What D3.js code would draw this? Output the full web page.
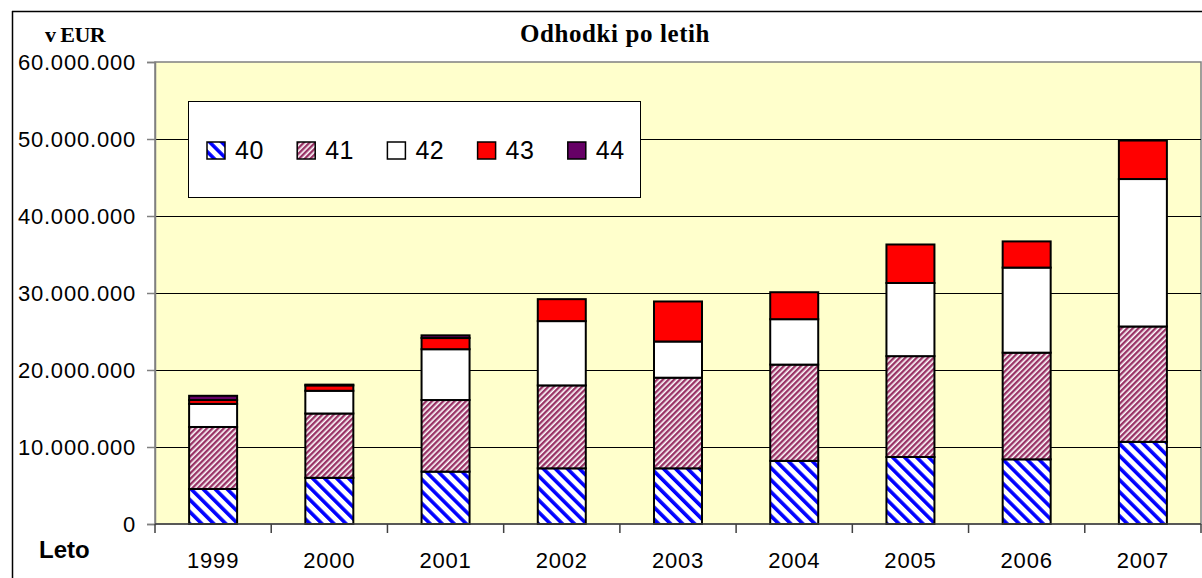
<!DOCTYPE html>
<html>
<head>
<meta charset="utf-8">
<script src="https://cdn.jsdelivr.net/npm/d3@7"></script>
<style>
  html, body { margin: 0; padding: 0; background: #fff; }
  svg { display: block; }
</style>
</head>
<body>
<svg id="chart" width="1202" height="578"></svg>
<script>
const years = ["1999","2000","2001","2002","2003","2004","2005","2006","2007"];
const seriesNames = ["40","41","42","43","44"];
const s40 = [4550000, 6000000, 6800000, 7230000, 7230000, 8200000, 8700000, 8400000, 10670000];
const s41 = [8050000, 8350000, 9300000, 10770000, 11770000, 12500000, 13100000, 13850000, 14980000];
const s42 = [3000000, 2950000, 6600000, 8350000, 4700000, 5900000, 9500000, 11050000, 19150000];
const s43 = [500000, 700000, 1450000, 2850000, 5200000, 3500000, 5000000, 3400000, 5000000];
const s44 = [550000, 100000, 350000, 0, 0, 0, 0, 0, 0];
const yTicks = [0, 10000000, 20000000, 30000000, 40000000, 50000000, 60000000];
const titleText = "Odhodki po letih";
const yUnit = "v EUR";
const xTitle = "Leto";

const svg = d3.select("#chart");
const plot = { left: 155, right: 1201, top: 62, bottom: 524 };

const rows = years.map((y, i) => ({ year: y, "40": s40[i], "41": s41[i], "42": s42[i], "43": s43[i], "44": s44[i] }));
const stack = d3.stack().keys(seriesNames)(rows);

const x = d3.scaleBand().domain(years).range([plot.left, plot.right]).paddingInner(0.587).paddingOuter(0.2935);
const y = d3.scaleLinear().domain([0, 60000000]).range([plot.bottom, plot.top]);

const loc = d3.formatLocale({ decimal: ",", thousands: ".", grouping: [3], currency: ["", " €"] });
const fmt = loc.format(",d");

// patterns
const defs = svg.append("defs");
const p40 = defs.append("pattern").attr("id", "p40").attr("patternUnits", "userSpaceOnUse")
  .attr("width", 8.5).attr("height", 8.5).attr("patternTransform", "rotate(-45)");
p40.append("rect").attr("width", 8.5).attr("height", 8.5).attr("fill", "#ffffff");
p40.append("rect").attr("width", 3.6).attr("height", 8.5).attr("fill", "#0000ff");
const p41 = defs.append("pattern").attr("id", "p41").attr("patternUnits", "userSpaceOnUse")
  .attr("width", 4).attr("height", 4).attr("patternTransform", "rotate(45)");
p41.append("rect").attr("width", 4).attr("height", 4).attr("fill", "#ffffff");
p41.append("rect").attr("width", 2.4).attr("height", 4).attr("fill", "#993366");

const fills = { "40": "url(#p40)", "41": "url(#p41)", "42": "#ffffff", "43": "#ff0000", "44": "#660066" };

// outer frame
svg.append("line").attr("x1", 12).attr("x2", 1202).attr("y1", 11.5).attr("y2", 11.5).attr("stroke", "#000").attr("stroke-width", 1.5);
svg.append("line").attr("x1", 12.5).attr("x2", 12.5).attr("y1", 11).attr("y2", 578).attr("stroke", "#000").attr("stroke-width", 1.5);

// plot background
svg.append("rect").attr("x", plot.left).attr("y", plot.top)
  .attr("width", plot.right - plot.left).attr("height", plot.bottom - plot.top)
  .attr("fill", "#ffffcc").attr("stroke", "#808080").attr("stroke-width", 1.5);

// gridlines
svg.append("g").selectAll("line").data(yTicks.filter(d => d > 0 && d < 60000000)).join("line")
  .attr("x1", plot.left).attr("x2", plot.right)
  .attr("y1", d => Math.round(y(d)) + 0.5).attr("y2", d => Math.round(y(d)) + 0.5)
  .attr("stroke", "#000").attr("stroke-width", 1);

// y axis
const yAxis = d3.axisLeft(y).tickValues(yTicks).tickFormat(fmt).tickSize(8).tickPadding(11);
const gy = svg.append("g").attr("transform", `translate(${plot.left},0)`).call(yAxis);
gy.select(".domain").attr("stroke", "#808080").attr("stroke-width", 1.5);
gy.selectAll(".tick line").attr("stroke", "#808080").attr("stroke-width", 1.5);
gy.selectAll(".tick text").attr("font-family", "Liberation Sans, Arial, sans-serif")
  .attr("font-size", 22).attr("letter-spacing", "0.8px").attr("fill", "#000");

// bars
svg.append("g").selectAll("g").data(stack).join("g")
  .attr("fill", d => fills[d.key])
  .selectAll("rect").data(d => d.filter(v => v[1] - v[0] > 0)).join("rect")
  .attr("x", d => x(d.data.year))
  .attr("width", x.bandwidth())
  .attr("y", d => y(d[1]))
  .attr("height", d => y(d[0]) - y(d[1]))
  .attr("stroke", "#000").attr("stroke-width", 2);

// x axis
svg.append("line").attr("x1", plot.left).attr("x2", plot.right)
  .attr("y1", plot.bottom).attr("y2", plot.bottom).attr("stroke", "#404040").attr("stroke-width", 1.5);
svg.append("g").selectAll("line").data(years.map((d, i) => plot.left + i * x.step()).concat([plot.right])).join("line")
  .attr("x1", d => d).attr("x2", d => d).attr("y1", plot.bottom).attr("y2", plot.bottom + 9)
  .attr("stroke", "#404040").attr("stroke-width", 1.5);
svg.append("g").selectAll("text").data(years).join("text")
  .attr("x", d => x(d) + x.bandwidth() / 2).attr("y", 568)
  .attr("text-anchor", "middle")
  .attr("font-family", "Liberation Sans, Arial, sans-serif").attr("font-size", 22)
  .attr("letter-spacing", "0.8px").attr("fill", "#000").text(d => d);

// titles
svg.append("text").attr("x", 615).attr("y", 42).attr("text-anchor", "middle")
  .attr("font-family", "Liberation Serif, Times New Roman, serif").attr("font-weight", "bold")
  .attr("font-size", 25).attr("letter-spacing", "0.6px").text(titleText);
svg.append("text").attr("x", 75).attr("y", 42).attr("text-anchor", "middle")
  .attr("font-family", "Liberation Serif, Times New Roman, serif").attr("font-weight", "bold")
  .attr("font-size", 22).attr("letter-spacing", "-0.6px").text(yUnit);
svg.append("text").attr("x", 39).attr("y", 558)
  .attr("font-family", "Liberation Sans, Arial, sans-serif").attr("font-weight", "bold")
  .attr("font-size", 24).text(xTitle);

// legend
const lg = svg.append("g");
lg.append("rect").attr("x", 188.5).attr("y", 101.5).attr("width", 452).attr("height", 96)
  .attr("fill", "#ffffff").attr("stroke", "#000").attr("stroke-width", 1);
const li = lg.selectAll("g.item").data(seriesNames).join("g").attr("class", "item")
  .attr("transform", (d, i) => `translate(${207 + i * 90.2},142)`);
li.append("rect").attr("width", 18).attr("height", 17).attr("fill", d => fills[d])
  .attr("stroke", "#000").attr("stroke-width", 1.5);
li.append("text").attr("x", 28).attr("y", 17).attr("font-family", "Liberation Sans, Arial, sans-serif")
  .attr("font-size", 25).attr("letter-spacing", "0.5px").attr("fill", "#000").text(d => d);
</script>
</body>
</html>
